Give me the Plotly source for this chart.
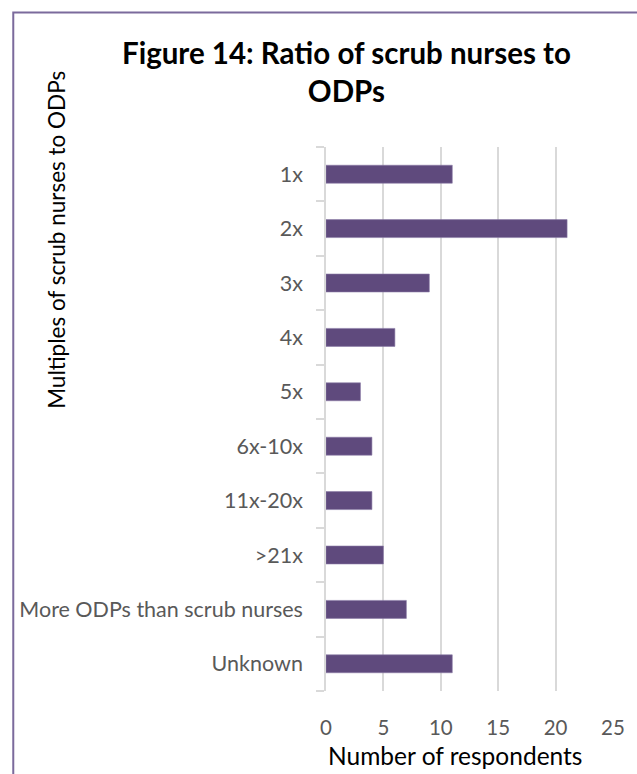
import plotly.graph_objects as go

categories = ["1x", "2x", "3x", "4x", "5x", "6x-10x", "11x-20x", ">21x",
              "More ODPs than scrub nurses", "Unknown"]
values = [11, 21, 9, 6, 3, 4, 4, 5, 7, 11]
x_ticks = [0, 5, 10, 15, 20, 25]

W, H = 637, 774
L, R, T, B = 326, 21, 147, 83
pw = W - L - R
ph = H - T - B

FONT = "Lato"
BAR = "#5F4A7D"
GRID = "#D9D9D9"
TXT = "#595959"


def px_x(px):
    return (px - L) / pw


def px_y(py):
    return 1 - (py - T) / ph


fig = go.Figure(go.Bar(
    x=values, y=categories, orientation="h",
    marker=dict(color=BAR, line=dict(color="#8A7AA6", width=0.6)),
    width=0.33,
))

fig.update_layout(
    width=W, height=H,
    margin=dict(l=L, r=R, t=T, b=B),
    paper_bgcolor="white", plot_bgcolor="white",
    showlegend=False,
    font=dict(family=FONT, color=TXT),
    xaxis=dict(
        range=[0, 25], tickvals=x_ticks, showgrid=True, gridcolor=GRID,
        gridwidth=1.5, zeroline=False, showline=False,
        tickfont=dict(size=20.5, color=TXT), ticks="", ticklabelstandoff=22,
        fixedrange=True,
    ),
    yaxis=dict(
        categoryorder="array", categoryarray=categories[::-1],
        showline=True, linecolor=GRID, linewidth=1.5,
        ticks="outside", tickson="boundaries", ticklen=8, tickcolor=GRID,
        tickwidth=1.5, showgrid=False,
        tickfont=dict(size=21.5, color=TXT), ticklabelstandoff=17,
    ),
    annotations=[
        dict(text="<b>Figure 14: Ratio of scrub nurses to</b><br><b>ODPs</b>",
             xref="paper", yref="paper",
             x=px_x(347), y=px_y(33), xanchor="center", yanchor="top",
             showarrow=False, align="center",
             font=dict(size=29.5, color="#000000", family=FONT)),
        dict(text="Number of respondents", xref="paper", yref="paper",
             x=px_x(456), y=px_y(755),
             xanchor="center", yanchor="middle", showarrow=False,
             font=dict(size=24.5, color="#000000", family=FONT)),
        dict(text="Multiples of scrub nurses to ODPs", xref="paper", yref="paper",
             x=px_x(54), y=px_y(240), textangle=-90,
             xanchor="center", yanchor="middle", showarrow=False,
             font=dict(size=22.5, color="#000000", family=FONT)),
    ],
    shapes=[
        dict(type="rect", xref="paper", yref="paper",
             x0=px_x(10), x1=px_x(W + 20),
             y0=px_y(H + 20), y1=px_y(12.5),
             line=dict(color="#7B6A9C", width=2), fillcolor="rgba(0,0,0,0)",
             layer="below"),
    ],
)

fig.write_html("out.html")
